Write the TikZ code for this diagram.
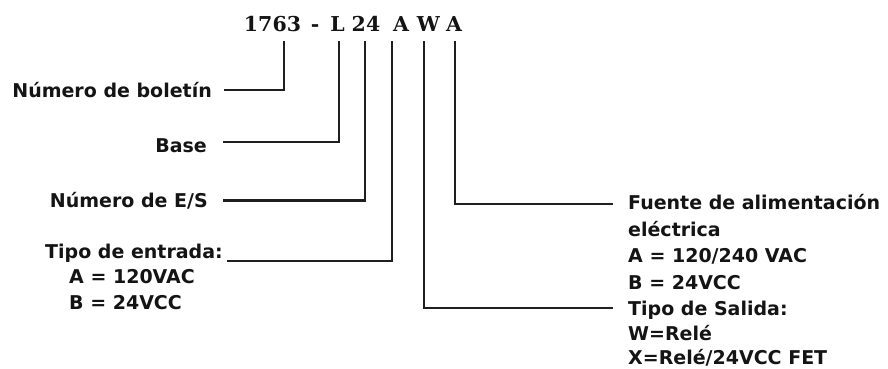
\documentclass[tikz,border=0pt]{standalone}
\usepackage{fontspec}
\newfontfamily\labfam{DejaVu Sans}
\newfontfamily\codefam{DejaVu Serif}
\begin{document}
\begin{tikzpicture}[x=1pt,y=-1pt,
  lab/.style={font=\labfam\bfseries\fontsize{19}{26}\selectfont, text=black!92, inner sep=0pt},
  code/.style={font=\codefam\bfseries\fontsize{20.5}{24}\selectfont, text=black!92, inner sep=0pt, anchor=base},
  wire/.style={line width=2.8pt, draw=black!88, line join=miter}]
\useasboundingbox (0,0) rectangle (888,368);

% catalogue number, piece by piece
\node[code] (cBul) at (272.5,31) {1763};
\node[code] (cDash) at (315,31) {-};
\node[code] (cBase) at (337.5,31) {L};
\node[code] (cIO) at (366,31) {24};
\node[code] (cIn) at (401,31) {A};
\node[code] (cOut) at (428.5,31) {W};
\node[code] (cPow) at (454,31) {A};

% tops of the leader lines under the code
\coordinate (tBul) at (284,41);
\coordinate (tBase) at (339,41);
\coordinate (tIO) at (365,41);
\coordinate (tIn) at (392,41);
\coordinate (tOut) at (424,41);
\coordinate (tPow) at (455,41);

% left-hand labels
\node[lab, anchor=base east] (lBul) at (212,97) {Número de boletín};
\node[lab, anchor=base east] (lBase) at (207,152) {Base};
\node[lab, anchor=base east] (lIO) at (208,207) {Número de E/S};
\node[lab, anchor=base west] (lIn) at (45,258) {Tipo de entrada:};
\node[lab, anchor=base west] (lInA) at (69,283.5) {A = 120VAC};
\node[lab, anchor=base west] (lInB) at (69,309) {B = 24VCC};

% right-hand labels
\node[lab, anchor=base west] (lPow) at (628,209) {Fuente de alimentación};
\node[lab, anchor=base west] (lPow2) at (628,236) {eléctrica};
\node[lab, anchor=base west] (lPowA) at (628,262.5) {A = 120/240 VAC};
\node[lab, anchor=base west] (lPowB) at (628,289) {B = 24VCC};
\node[lab, anchor=base west] (lOut) at (628,315) {Tipo de Salida:};
\node[lab, anchor=base west] (lOutW) at (628,340.5) {W=Relé};
\node[lab, anchor=base west] (lOutX) at (628,364.5) {X=Relé/24VCC FET};

% free ends of the leaders beside the labels
\coordinate (eBul) at (224,90);
\coordinate (eBase) at (223,142);
\coordinate (eIO) at (223,200.5);
\coordinate (eIn) at (227,261);
\coordinate (eOut) at (613,308);
\coordinate (ePow) at (613,204);

% leaders
\draw[wire] (tBul) |- (eBul);
\draw[wire] (tBase) |- (eBase);
\draw[wire] (tIO) |- (eIO);
\draw[wire] (tIn) |- (eIn);
\draw[wire] (tOut) |- (eOut);
\draw[wire] (tPow) |- (ePow);
\end{tikzpicture}
\end{document}
